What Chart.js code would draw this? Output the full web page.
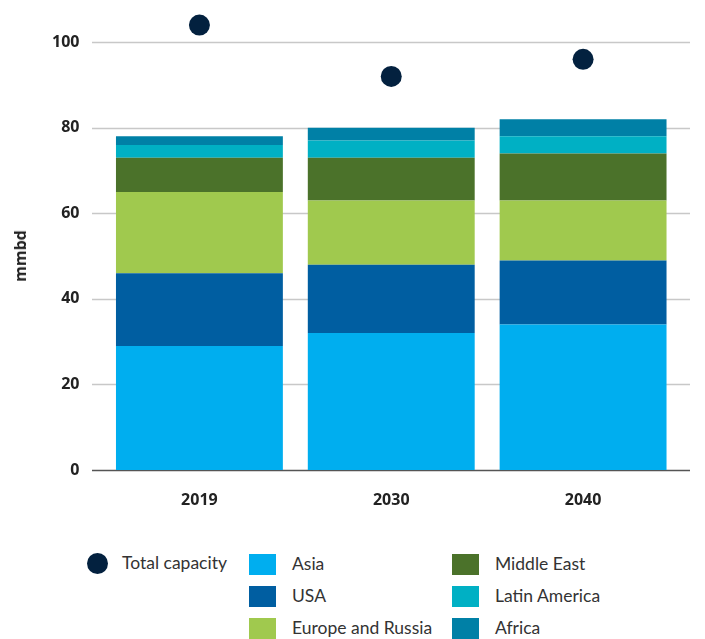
<!DOCTYPE html>
<html>
<head>
<meta charset="utf-8">
<script src="https://cdn.jsdelivr.net/npm/chart.js@4/dist/chart.umd.min.js"></script>
<style>
  body { margin: 0; background: #fff; font-family: Lato, sans-serif; }
  #wrap { position: relative; width: 705px; height: 639px; }
  #chart { position: absolute; left: 0; top: 0; }
  .leg { position: absolute; font-size: 17.5px; color: #333; line-height: 22px; white-space: nowrap; }
  .sw { position: absolute; width: 27px; height: 21px; }
  .dot { position: absolute; width: 21px; height: 21px; border-radius: 50%; background: #03213f; }
  #ytitle { position: absolute; left: 20px; top: 256px; transform: translate(-50%, -50%) rotate(-90deg);
            font: bold 16px "Open Sans", sans-serif; color: #222; white-space: nowrap; }
</style>
</head>
<body>
<div id="wrap">
  <canvas id="chart" width="705" height="530"></canvas>
  <div id="ytitle">mmbd</div>
  <div id="legend"></div>
</div>
<script>
const years = ['2019', '2030', '2040'];
const asia = [29, 32, 34];
const usa = [17, 16, 15];
const europe = [19, 15, 14];
const middleEast = [8, 10, 11];
const latinAmerica = [3, 4, 4];
const africa = [2, 3, 4];
const totalCapacity = [104, 92, 96];
const yTicks = [0, 20, 40, 60, 80, 100];

const series = [
  { label: 'Asia', data: asia, color: '#00aeef' },
  { label: 'USA', data: usa, color: '#005ea1' },
  { label: 'Europe and Russia', data: europe, color: '#a0c94e' },
  { label: 'Middle East', data: middleEast, color: '#4b722a' },
  { label: 'Latin America', data: latinAmerica, color: '#00b0c4' },
  { label: 'Africa', data: africa, color: '#0080a6' }
];

// gridlines run a bit wider than the bars area
const gridPlugin = {
  id: 'grid',
  beforeDatasetsDraw(chart) {
    const ctx = chart.ctx;
    const y = chart.scales.y;
    ctx.save();
    yTicks.forEach(v => {
      const py = Math.round(y.getPixelForValue(v)) + 0.5;
      ctx.beginPath();
      ctx.moveTo(92, py);
      ctx.lineTo(690, py);
      ctx.lineWidth = 1.5;
      ctx.strokeStyle = v === 0 ? '#555555' : '#c8c8c8';
      ctx.stroke();
    });
    ctx.restore();
  }
};

const datasets = series.map(s => ({
  type: 'bar',
  label: s.label,
  data: s.data,
  backgroundColor: s.color,
  borderWidth: 0,
  barPercentage: 0.87,
  categoryPercentage: 1,
  stack: 'regions',
  order: 2
}));

datasets.push({
  type: 'line',
  label: 'Total capacity',
  data: totalCapacity,
  showLine: false,
  pointRadius: 10.5,
  pointHoverRadius: 10.5,
  pointBackgroundColor: '#03213f',
  pointBorderWidth: 0,
  stack: 'total',
  clip: false,
  order: 1
});

new Chart(document.getElementById('chart'), {
  data: { labels: years, datasets: datasets },
  options: {
    responsive: false,
    animation: false,
    layout: { autoPadding: false, padding: { top: 8, right: 26, left: 0, bottom: 0 } },
    plugins: { legend: { display: false }, tooltip: { enabled: false } },
    scales: {
      x: {
        stacked: true,
        grid: { display: false, drawTicks: false },
        border: { display: false },
        ticks: { color: '#222', padding: 21, font: { family: 'Open Sans', size: 16, weight: 'bold' } },
        afterFit(scale) { scale.height = 60; scale.paddingLeft = 0; scale.paddingRight = 0; }
      },
      y: {
        stacked: true,
        min: 0,
        max: 108,
        afterBuildTicks(scale) { scale.ticks = yTicks.map(v => ({ value: v })); },
        grid: { display: false, drawTicks: false },
        border: { display: false },
        ticks: { color: '#222', padding: 24, font: { family: 'Open Sans', size: 16, weight: 'bold' } },
        afterFit(scale) { scale.width = 103.5; scale.paddingTop = 0; scale.paddingBottom = 0; }
      }
    }
  },
  plugins: [gridPlugin]
});

// legend laid out in three columns like the original
const legend = document.getElementById('legend');
let html = '<div class="dot" style="left:87px;top:553px"></div>' +
  '<div class="leg" style="left:122px;top:552px">Total capacity</div>';
const cols = [249, 452];
series.forEach((s, i) => {
  const col = Math.floor(i / 3);
  const row = i % 3;
  const top = 554 + row * 32;
  html += `<div class="sw" style="left:${cols[col]}px;top:${top}px;background:${s.color}"></div>`;
  html += `<div class="leg" style="left:${cols[col] + 43}px;top:${top - 1}px">${s.label}</div>`;
});
legend.innerHTML = html;
</script>
</body>
</html>
